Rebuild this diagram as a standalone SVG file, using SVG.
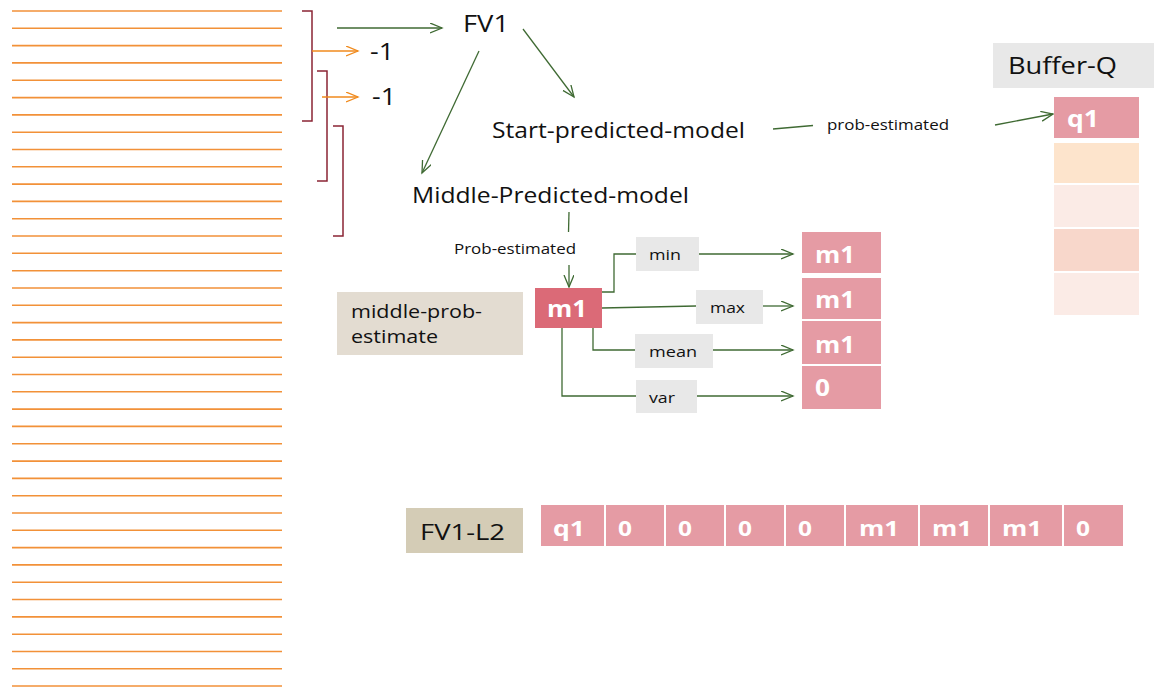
<svg xmlns="http://www.w3.org/2000/svg" width="1154" height="687" viewBox="0 0 1154 687">
<style>
.ln{stroke:#F29138;stroke-width:1.6}
.br{fill:none;stroke:#8B2535;stroke-width:1.5}
.oa{fill:none;stroke:#F08A1C;stroke-width:1.4}
.ga{fill:none;stroke:#3F6A33;stroke-width:1.3}
.t{font-family:"Open Sans","Liberation Sans",sans-serif;fill:#111}
.w{font-family:"Open Sans","Liberation Sans",sans-serif;fill:#fff;font-weight:bold}
.pk{fill:#E59BA4}
.lb{fill:#E8E8E8}
</style>
<defs>
<marker id="ag" markerUnits="userSpaceOnUse" markerWidth="14" markerHeight="12" refX="12" refY="5" orient="auto" viewBox="0 0 14 12">
<path d="M0,0 L12,5 L0,10" fill="none" stroke="#3F6A33" stroke-width="1.3"/>
</marker>
<marker id="ao" markerUnits="userSpaceOnUse" markerWidth="14" markerHeight="12" refX="12" refY="5" orient="auto" viewBox="0 0 14 12">
<path d="M0,0 L12,5 L0,10" fill="none" stroke="#F08A1C" stroke-width="1.3"/>
</marker>
</defs>
<rect width="1154" height="687" fill="#fff"/>
<g id="lines">
<line class="ln" x1="12" x2="282" y1="11" y2="11"/>
<line class="ln" x1="12" x2="282" y1="28.3" y2="28.3"/>
<line class="ln" x1="12" x2="282" y1="45.6" y2="45.6"/>
<line class="ln" x1="12" x2="282" y1="62.9" y2="62.9"/>
<line class="ln" x1="12" x2="282" y1="80.2" y2="80.2"/>
<line class="ln" x1="12" x2="282" y1="97.6" y2="97.6"/>
<line class="ln" x1="12" x2="282" y1="114.9" y2="114.9"/>
<line class="ln" x1="12" x2="282" y1="132.2" y2="132.2"/>
<line class="ln" x1="12" x2="282" y1="149.5" y2="149.5"/>
<line class="ln" x1="12" x2="282" y1="166.8" y2="166.8"/>
<line class="ln" x1="12" x2="282" y1="184.1" y2="184.1"/>
<line class="ln" x1="12" x2="282" y1="201.4" y2="201.4"/>
<line class="ln" x1="12" x2="282" y1="218.7" y2="218.7"/>
<line class="ln" x1="12" x2="282" y1="236" y2="236"/>
<line class="ln" x1="12" x2="282" y1="253.3" y2="253.3"/>
<line class="ln" x1="12" x2="282" y1="270.7" y2="270.7"/>
<line class="ln" x1="12" x2="282" y1="288" y2="288"/>
<line class="ln" x1="12" x2="282" y1="305.3" y2="305.3"/>
<line class="ln" x1="12" x2="282" y1="322.6" y2="322.6"/>
<line class="ln" x1="12" x2="282" y1="339.9" y2="339.9"/>
<line class="ln" x1="12" x2="282" y1="357.2" y2="357.2"/>
<line class="ln" x1="12" x2="282" y1="374.5" y2="374.5"/>
<line class="ln" x1="12" x2="282" y1="391.8" y2="391.8"/>
<line class="ln" x1="12" x2="282" y1="409.1" y2="409.1"/>
<line class="ln" x1="12" x2="282" y1="426.4" y2="426.4"/>
<line class="ln" x1="12" x2="282" y1="443.8" y2="443.8"/>
<line class="ln" x1="12" x2="282" y1="461.1" y2="461.1"/>
<line class="ln" x1="12" x2="282" y1="478.4" y2="478.4"/>
<line class="ln" x1="12" x2="282" y1="495.7" y2="495.7"/>
<line class="ln" x1="12" x2="282" y1="513" y2="513"/>
<line class="ln" x1="12" x2="282" y1="530.3" y2="530.3"/>
<line class="ln" x1="12" x2="282" y1="547.6" y2="547.6"/>
<line class="ln" x1="12" x2="282" y1="564.9" y2="564.9"/>
<line class="ln" x1="12" x2="282" y1="582.2" y2="582.2"/>
<line class="ln" x1="12" x2="282" y1="599.5" y2="599.5"/>
<line class="ln" x1="12" x2="282" y1="616.9" y2="616.9"/>
<line class="ln" x1="12" x2="282" y1="634.2" y2="634.2"/>
<line class="ln" x1="12" x2="282" y1="651.5" y2="651.5"/>
<line class="ln" x1="12" x2="282" y1="668.8" y2="668.8"/>
<line class="ln" x1="12" x2="282" y1="686" y2="686"/>
</g>
<g id="brackets">
<path class="br" d="M302,11 H312 V121 H302"/>
<path class="br" d="M317,71 H327 V181 H317"/>
<path class="br" d="M333,126 H343 V236 H333"/>
</g>
<g id="connectors">
<line class="oa" x1="312" y1="51" x2="358" y2="51" marker-end="url(#ao)"/>
<line class="oa" x1="322" y1="97" x2="358" y2="97" marker-end="url(#ao)"/>
<line class="ga" x1="337" y1="28" x2="442" y2="28" marker-end="url(#ag)"/>
<line class="ga" x1="523" y1="29" x2="574" y2="97" marker-end="url(#ag)"/>
<line class="ga" x1="479" y1="51" x2="422" y2="173" marker-end="url(#ag)"/>
<line class="ga" x1="773" y1="129" x2="813" y2="125.5"/>
<line class="ga" x1="995" y1="125" x2="1053" y2="114" marker-end="url(#ag)"/>
<line class="ga" x1="569" y1="212" x2="568.5" y2="232"/>
<line class="ga" x1="569" y1="265" x2="569" y2="287" marker-end="url(#ag)"/>
<path class="ga" d="M602,292 H614 V254 H637"/>
<line class="ga" x1="699" y1="254" x2="793" y2="254" marker-end="url(#ag)"/>
<line class="ga" x1="602" y1="308" x2="696" y2="306"/>
<line class="ga" x1="763" y1="306" x2="793" y2="306" marker-end="url(#ag)"/>
<path class="ga" d="M593,328 V350 H635"/>
<line class="ga" x1="713" y1="350" x2="793" y2="350" marker-end="url(#ag)"/>
<path class="ga" d="M562,328 V396 H636"/>
<line class="ga" x1="697" y1="396" x2="793" y2="396" marker-end="url(#ag)"/>
</g>
<g id="neg1a"><text class="t" x="370" y="60" font-size="23" textLength="24" lengthAdjust="spacingAndGlyphs">-1</text></g>
<g id="neg1b"><text class="t" x="372" y="105" font-size="23" textLength="24" lengthAdjust="spacingAndGlyphs">-1</text></g>
<g id="fv1"><text class="t" x="463" y="32" font-size="24" textLength="46" lengthAdjust="spacingAndGlyphs">FV1</text></g>
<g id="start-model"><text class="t" x="492" y="138" font-size="22" textLength="253" lengthAdjust="spacingAndGlyphs">Start-predicted-model</text></g>
<g id="middle-model"><text class="t" x="412" y="203" font-size="22" textLength="277" lengthAdjust="spacingAndGlyphs">Middle-Predicted-model</text></g>
<g id="prob-est-label"><text class="t" x="827" y="130" font-size="14.5" textLength="122" lengthAdjust="spacingAndGlyphs">prob-estimated</text></g>
<g id="buffer-q">
<rect class="lb" x="993" y="43" width="161" height="45"/>
<text class="t" x="1008" y="74" font-size="24" textLength="109" lengthAdjust="spacingAndGlyphs">Buffer-Q</text>
<rect class="pk" x="1054" y="97" width="85" height="41"/>
<text class="w" x="1067" y="127" font-size="23" textLength="32" lengthAdjust="spacingAndGlyphs">q1</text>
<rect x="1054" y="143" width="85" height="40" fill="#FDE4CC"/>
<rect x="1054" y="185" width="85" height="42" fill="#FBEBE6"/>
<rect x="1054" y="229" width="85" height="42" fill="#F8D7CB"/>
<rect x="1054" y="273" width="85" height="42" fill="#FBEBE6"/>
</g>
<g id="prob-est-mid"><text class="t" x="454" y="254" font-size="14.5" textLength="122" lengthAdjust="spacingAndGlyphs">Prob-estimated</text></g>
<g id="middle-prob-estimate">
<rect x="337" y="292" width="186" height="63" fill="#E3DCD1"/>
<text class="t" x="351" y="318" font-size="19" textLength="131" lengthAdjust="spacingAndGlyphs">middle-prob-</text>
<text class="t" x="351" y="343" font-size="19" textLength="87" lengthAdjust="spacingAndGlyphs">estimate</text>
</g>
<g id="m1-src">
<rect x="535" y="288" width="67" height="40" fill="#DB6A77"/>
<text class="w" x="547" y="317" font-size="24" textLength="40" lengthAdjust="spacingAndGlyphs">m1</text>
</g>
<g id="lbl-min"><rect class="lb" x="636" y="237" width="63" height="34"/><text class="t" x="649" y="260" font-size="15" textLength="32" lengthAdjust="spacingAndGlyphs">min</text></g>
<g id="lbl-max"><rect class="lb" x="696" y="290" width="67" height="34"/><text class="t" x="710" y="313" font-size="15" textLength="35" lengthAdjust="spacingAndGlyphs">max</text></g>
<g id="lbl-mean"><rect class="lb" x="635" y="334" width="78" height="34"/><text class="t" x="649" y="357" font-size="15" textLength="48" lengthAdjust="spacingAndGlyphs">mean</text></g>
<g id="lbl-var"><rect class="lb" x="636" y="380" width="61" height="33"/><text class="t" x="649" y="403" font-size="15" textLength="26" lengthAdjust="spacingAndGlyphs">var</text></g>
<g id="out-min"><rect class="pk" x="802" y="232" width="79" height="41"/><text class="w" x="815" y="263" font-size="23" textLength="40" lengthAdjust="spacingAndGlyphs">m1</text></g>
<g id="out-max"><rect class="pk" x="802" y="278" width="79" height="41"/><text class="w" x="815" y="308" font-size="23" textLength="40" lengthAdjust="spacingAndGlyphs">m1</text></g>
<g id="out-mean"><rect class="pk" x="802" y="321" width="79" height="43"/><text class="w" x="815" y="353" font-size="23" textLength="40" lengthAdjust="spacingAndGlyphs">m1</text></g>
<g id="out-var"><rect class="pk" x="802" y="366" width="79" height="43"/><text class="w" x="815" y="396" font-size="23" textLength="15" lengthAdjust="spacingAndGlyphs">0</text></g>
<g id="fv1-l2">
<rect x="406" y="508" width="117" height="45" fill="#D4CCB6"/>
<text class="t" x="420" y="540" font-size="22" textLength="85" lengthAdjust="spacingAndGlyphs">FV1-L2</text>
</g>
<g id="fv1-l2-cells">
<rect class="pk" x="541" y="505" width="63" height="41"/><text class="w" x="553" y="536" font-size="22" textLength="32" lengthAdjust="spacingAndGlyphs">q1</text>
<rect class="pk" x="606" y="505" width="58" height="41"/><text class="w" x="618" y="536" font-size="22" textLength="14" lengthAdjust="spacingAndGlyphs">0</text>
<rect class="pk" x="666" y="505" width="58" height="41"/><text class="w" x="678" y="536" font-size="22" textLength="14" lengthAdjust="spacingAndGlyphs">0</text>
<rect class="pk" x="726" y="505" width="58" height="41"/><text class="w" x="738" y="536" font-size="22" textLength="14" lengthAdjust="spacingAndGlyphs">0</text>
<rect class="pk" x="786" y="505" width="58" height="41"/><text class="w" x="798" y="536" font-size="22" textLength="14" lengthAdjust="spacingAndGlyphs">0</text>
<rect class="pk" x="846" y="505" width="72" height="41"/><text class="w" x="859" y="536" font-size="22" textLength="40" lengthAdjust="spacingAndGlyphs">m1</text>
<rect class="pk" x="920" y="505" width="68" height="41"/><text class="w" x="932" y="536" font-size="22" textLength="40" lengthAdjust="spacingAndGlyphs">m1</text>
<rect class="pk" x="990" y="505" width="72" height="41"/><text class="w" x="1002" y="536" font-size="22" textLength="40" lengthAdjust="spacingAndGlyphs">m1</text>
<rect class="pk" x="1064" y="505" width="59" height="41"/><text class="w" x="1076" y="536" font-size="22" textLength="14" lengthAdjust="spacingAndGlyphs">0</text>
</g>
</svg>
